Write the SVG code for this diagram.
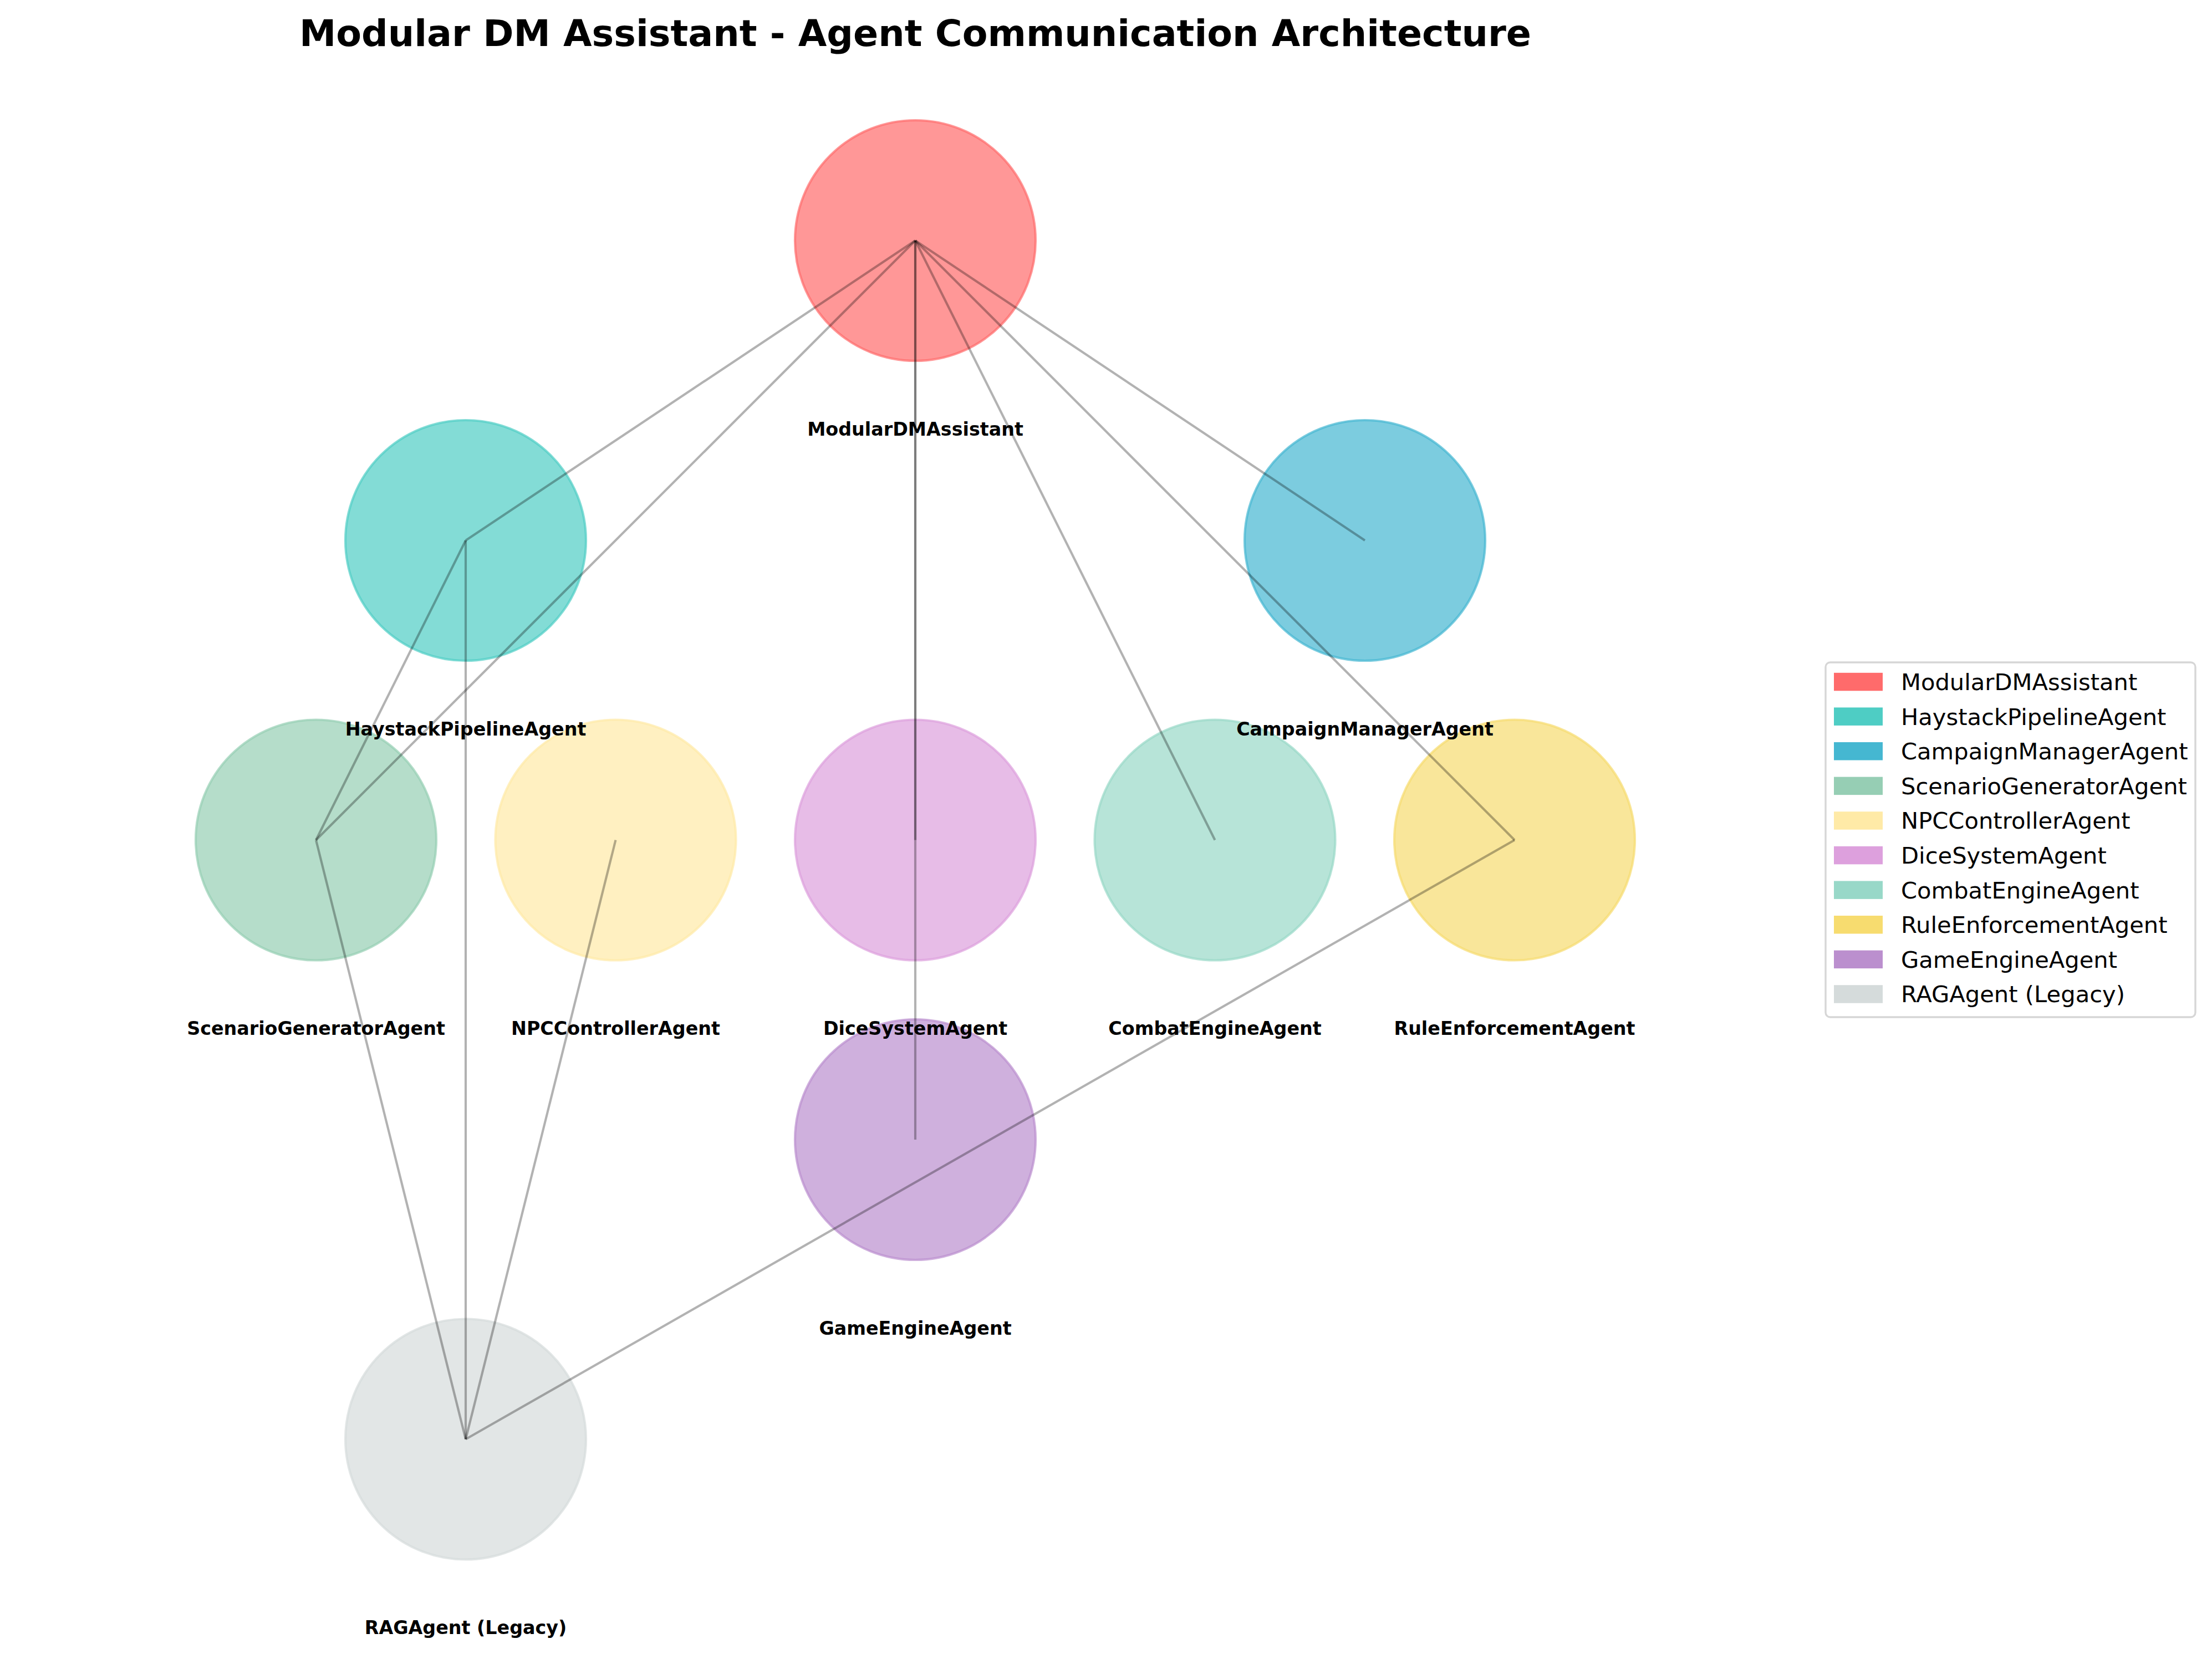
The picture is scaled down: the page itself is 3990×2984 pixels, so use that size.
<svg xmlns="http://www.w3.org/2000/svg" width="3990" height="2984" viewBox="0 0 3990 2984">
<style>
.node circle{stroke-width:4.17;fill-opacity:0.7;stroke-opacity:0.7}
.lbl{font-family:"DejaVu Sans","Liberation Sans",sans-serif;font-weight:bold;font-size:33.33px;text-anchor:middle;fill:#000}
.title{font-family:"DejaVu Sans","Liberation Sans",sans-serif;font-weight:bold;font-size:66.67px;text-anchor:middle;fill:#000}
.edges line{stroke:#000;stroke-opacity:0.3;stroke-width:4.17;stroke-linecap:butt}
.leg text{font-family:"DejaVu Sans","Liberation Sans",sans-serif;font-size:41.67px;fill:#000}
</style>
<rect width="3990" height="2984" fill="#fff"/>
<text class="title" x="1651" y="83">Modular DM Assistant - Agent Communication Architecture</text>

<g id="node-ModularDMAssistant" class="node">
<circle cx="1651" cy="434" r="217" fill="#FF6B6B" stroke="#FF6B6B"/>
<text class="lbl" x="1651" y="785.5">ModularDMAssistant</text>
</g>
<g id="node-ScenarioGeneratorAgent" class="node">
<circle cx="570" cy="1515.5" r="217" fill="#96CEB4" stroke="#96CEB4"/>
<text class="lbl" x="570" y="1867">ScenarioGeneratorAgent</text>
</g>
<g id="node-NPCControllerAgent" class="node">
<circle cx="1110.5" cy="1515.5" r="217" fill="#FFEAA7" stroke="#FFEAA7"/>
<text class="lbl" x="1110.5" y="1867">NPCControllerAgent</text>
</g>
<g id="node-GameEngineAgent" class="node">
<circle cx="1651" cy="2056" r="217" fill="#BB8FCE" stroke="#BB8FCE"/>
<text class="lbl" x="1651" y="2407.5">GameEngineAgent</text>
</g>
<g id="node-DiceSystemAgent" class="node">
<circle cx="1651" cy="1515.5" r="217" fill="#DDA0DD" stroke="#DDA0DD"/>
<text class="lbl" x="1651" y="1867">DiceSystemAgent</text>
</g>
<g id="node-CombatEngineAgent" class="node">
<circle cx="2191.5" cy="1515.5" r="217" fill="#98D8C8" stroke="#98D8C8"/>
<text class="lbl" x="2191.5" y="1867">CombatEngineAgent</text>
</g>
<g id="node-RuleEnforcementAgent" class="node">
<circle cx="2732" cy="1515.5" r="217" fill="#F7DC6F" stroke="#F7DC6F"/>
<text class="lbl" x="2732" y="1867">RuleEnforcementAgent</text>
</g>
<g id="node-HaystackPipelineAgent" class="node">
<circle cx="840" cy="975" r="217" fill="#4ECDC4" stroke="#4ECDC4"/>
<text class="lbl" x="840" y="1326.5">HaystackPipelineAgent</text>
</g>
<g id="node-CampaignManagerAgent" class="node">
<circle cx="2462" cy="975" r="217" fill="#45B7D1" stroke="#45B7D1"/>
<text class="lbl" x="2462" y="1326.5">CampaignManagerAgent</text>
</g>
<g id="node-RAGAgent" class="node">
<circle cx="840" cy="2596.5" r="217" fill="#D5DBDB" stroke="#D5DBDB"/>
<text class="lbl" x="840" y="2948">RAGAgent (Legacy)</text>
</g>

<g id="connectors" class="edges">
<line x1="1651" y1="434" x2="840" y2="975"/>
<line x1="1651" y1="434" x2="570" y2="1515.5"/>
<line x1="1651" y1="434" x2="1651" y2="1515.5"/>
<line x1="1651" y1="434" x2="1651" y2="2056"/>
<line x1="1651" y1="434" x2="2191.5" y2="1515.5"/>
<line x1="1651" y1="434" x2="2732" y2="1515.5"/>
<line x1="1651" y1="434" x2="2462" y2="975"/>
<line x1="840" y1="975" x2="570" y2="1515.5"/>
<line x1="840" y1="975" x2="840" y2="2596.5"/>
<line x1="570" y1="1515.5" x2="840" y2="2596.5"/>
<line x1="1110.5" y1="1515.5" x2="840" y2="2596.5"/>
<line x1="2732" y1="1515.5" x2="840" y2="2596.5"/>
</g>

<g id="legend" class="leg">
<rect x="3293" y="1195" width="667" height="640" rx="8.3" fill="#fff" stroke="#D6D6D6" stroke-width="3.33"/>
<rect x="3308" y="1213.8" width="88" height="32.5" fill="#FF6B6B"/>
<text x="3429" y="1245">ModularDMAssistant</text>
<rect x="3308" y="1276.4" width="88" height="32.5" fill="#4ECDC4"/>
<text x="3429" y="1307.6">HaystackPipelineAgent</text>
<rect x="3308" y="1339" width="88" height="32.5" fill="#45B7D1"/>
<text x="3429" y="1370.2">CampaignManagerAgent</text>
<rect x="3308" y="1401.6" width="88" height="32.5" fill="#96CEB4"/>
<text x="3429" y="1432.8">ScenarioGeneratorAgent</text>
<rect x="3308" y="1464.2" width="88" height="32.5" fill="#FFEAA7"/>
<text x="3429" y="1495.4">NPCControllerAgent</text>
<rect x="3308" y="1526.8" width="88" height="32.5" fill="#DDA0DD"/>
<text x="3429" y="1558">DiceSystemAgent</text>
<rect x="3308" y="1589.4" width="88" height="32.5" fill="#98D8C8"/>
<text x="3429" y="1620.6">CombatEngineAgent</text>
<rect x="3308" y="1652" width="88" height="32.5" fill="#F7DC6F"/>
<text x="3429" y="1683.2">RuleEnforcementAgent</text>
<rect x="3308" y="1714.6" width="88" height="32.5" fill="#BB8FCE"/>
<text x="3429" y="1745.8">GameEngineAgent</text>
<rect x="3308" y="1777.2" width="88" height="32.5" fill="#D5DBDB"/>
<text x="3429" y="1808.4">RAGAgent (Legacy)</text>
</g>
</svg>
